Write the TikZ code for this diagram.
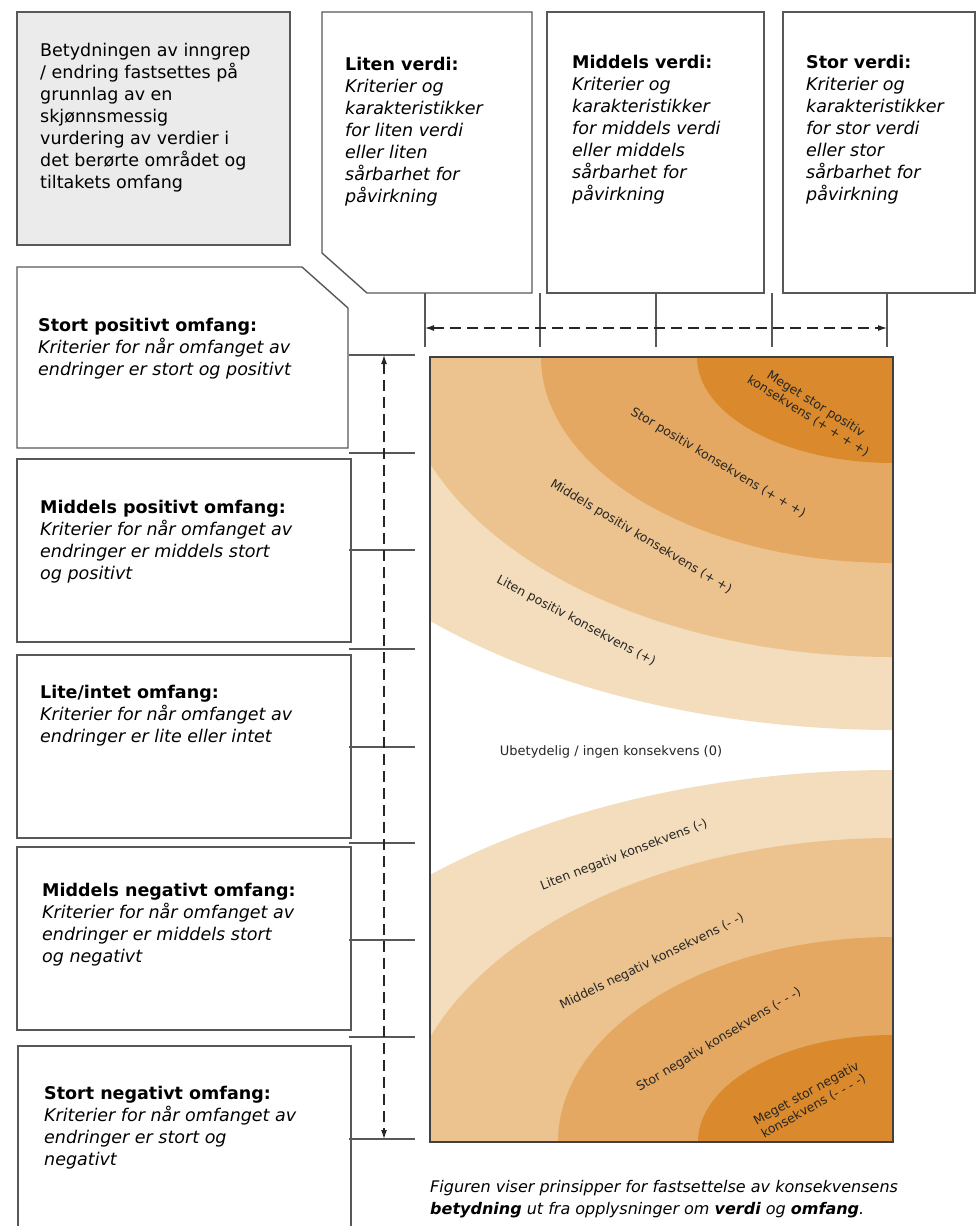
\documentclass[tikz,border=0pt]{standalone}
\usepackage{fontspec}
\setmainfont{DejaVu Sans}
\usetikzlibrary{arrows.meta}
\definecolor{boxgray}{HTML}{EBEBEB}
\definecolor{edge}{HTML}{585858}
\definecolor{cA}{HTML}{DA8A2C}
\definecolor{cB}{HTML}{E4A862}
\definecolor{cC}{HTML}{ECC38E}
\definecolor{cD}{HTML}{F4DDBC}
\tikzset{
  boxline/.style={draw=edge, line width=1.4pt, line join=miter},
  txt/.style={anchor=north west, inner sep=0pt, align=left, font=\fontsize{17.5}{22}\selectfont},
  captxt/.style={anchor=north west, inner sep=0pt, align=left, font=\itshape\fontsize{16}{22.5}\selectfont},
  tickline/.style={draw=edge, line width=1.2pt},
  dimarrow/.style={draw=black!85, line width=1.2pt, dash pattern=on 11pt off 6pt,
     {Latex[length=9pt,width=6pt]}-{Latex[length=9pt,width=6pt]}},
  lbl/.style={inner sep=0pt, align=center, text=black!85, font=\fontsize{12.5}{14.5}\selectfont},
}
\begin{document}
\begin{tikzpicture}[x=1pt,y=-1pt]
\useasboundingbox (0,0) rectangle (978,1226);
\fill[white] (0,0) rectangle (978,1226);

% ---------- matrix ----------
\begin{scope}
  \clip (430,357) rectangle (893,1142);
  \fill[white] (430,357) rectangle (893,1142);
  \fill[cD] (893,357) ellipse [x radius=655pt, y radius=373pt];
  \fill[cC] (893,357) ellipse [x radius=495pt, y radius=300pt];
  \fill[cB] (893,357) ellipse [x radius=352pt, y radius=206pt];
  \fill[cA] (893,357) ellipse [x radius=196pt, y radius=106pt];
  \fill[cD] (893,1142) ellipse [x radius=665pt, y radius=372pt];
  \fill[cC] (893,1142) ellipse [x radius=493pt, y radius=304pt];
  \fill[cB] (893,1142) ellipse [x radius=335pt, y radius=205pt];
  \fill[cA] (893,1142) ellipse [x radius=195pt, y radius=107pt];
\end{scope}
\draw[draw=black!75, line width=1.2pt] (430,357) rectangle (893,1142);

\node[lbl, rotate=-32] (p4) at (812,410) {Meget stor positiv\\konsekvens (+ + + +)};
\node[lbl, rotate=-31] (p3) at (718,463) {Stor positiv konsekvens (+ + +)};
\node[lbl, rotate=-31] (p2) at (641,537) {Middels positiv konsekvens (+ +)};
\node[lbl, rotate=-28] (p1) at (576,621) {Liten positiv konsekvens (+)};
\node[lbl, font=\fontsize{13}{15}\selectfont] (n0) at (611,752) {Ubetydelig / ingen konsekvens (0)};
\node[lbl, rotate=21] (n1) at (624,855) {Liten negativ konsekvens (-)};
\node[lbl, rotate=26] (n2) at (652,962) {Middels negativ konsekvens (- -)};
\node[lbl, rotate=31] (n3) at (719,1040) {Stor negativ konsekvens (- - -)};
\node[lbl, rotate=29] (n4) at (810,1100) {Meget stor negativ\\konsekvens (- - - -)};

% ---------- boxes ----------
\draw[boxline, fill=boxgray] (17,12) rectangle (290,245);
\draw[boxline] (322,12) -- (532,12) -- (532,293) -- (367,293) -- (322,253) -- cycle;
\draw[boxline] (547,12) rectangle (764,293);
\draw[boxline] (783,12) rectangle (975,293);
\draw[boxline] (17,267) -- (302,267) -- (348,308) -- (348,448) -- (17,448) -- cycle;
\draw[boxline] (17,459) rectangle (351,642);
\draw[boxline] (17,655) rectangle (351,838);
\draw[boxline] (17,847) rectangle (351,1030);
\draw[boxline] (18,1046) rectangle (351,1260);

% ---------- texts ----------
\node[txt] (intro) at (40,43) {Betydningen av inngrep\\/ endring fastsettes på\\grunnlag av en\\skjønnsmessig\\vurdering av verdier i\\det berørte området og\\tiltakets omfang};
\node[txt] (liten) at (345,57) {\textbf{Liten verdi:}\\\itshape Kriterier og\\\itshape karakteristikker\\\itshape for liten verdi\\\itshape eller liten\\\itshape sårbarhet for\\\itshape påvirkning};
\node[txt] (middels) at (572,55) {\textbf{Middels verdi:}\\\itshape Kriterier og\\\itshape karakteristikker\\\itshape for middels verdi\\\itshape eller middels\\\itshape sårbarhet for\\\itshape påvirkning};
\node[txt] (stor) at (806,55) {\textbf{Stor verdi:}\\\itshape Kriterier og\\\itshape karakteristikker\\\itshape for stor verdi\\\itshape eller stor\\\itshape sårbarhet for\\\itshape påvirkning};

\node[txt] (spos) at (38,318) {\textbf{Stort positivt omfang:}\\\itshape Kriterier for når omfanget av\\\itshape endringer er stort og positivt};
\node[txt] (mpos) at (40,500) {\textbf{Middels positivt omfang:}\\\itshape Kriterier for når omfanget av\\\itshape endringer er middels stort\\\itshape og positivt};
\node[txt] (lite) at (40,685) {\textbf{Lite/intet omfang:}\\\itshape Kriterier for når omfanget av\\\itshape endringer er lite eller intet};
\node[txt] (mneg) at (42,883) {\textbf{Middels negativt omfang:}\\\itshape Kriterier for når omfanget av\\\itshape endringer er middels stort\\\itshape og negativt};
\node[txt] (sneg) at (44,1086) {\textbf{Stort negativt omfang:}\\\itshape Kriterier for når omfanget av\\\itshape endringer er stort og\\\itshape negativt};

\node[captxt] (caption) at (430,1180) {Figuren viser prinsipper for fastsettelse av konsekvensens\\\textbf{betydning} ut fra opplysninger om \textbf{verdi} og \textbf{omfang}.};

% ---------- ticks and dimension arrows ----------
\foreach \i/\x in {1/425,2/540,3/656,4/772,5/887}{
  \coordinate (tt\i) at (\x,293);
  \coordinate (tb\i) at (\x,347);
  \draw[tickline] (tt\i) -- (tb\i);
}
\foreach \i/\y in {1/355,2/453,3/550,4/649,5/747,6/843,7/940,8/1037,9/1139}{
  \coordinate (ll\i) at (349,\y);
  \coordinate (lr\i) at (415,\y);
  \draw[tickline] (ll\i) -- (lr\i);
}
\coordinate (hA) at (425,328);
\coordinate (hB) at (887,328);
\draw[dimarrow] (hA) -- (hB);
\coordinate (vA) at (384,355);
\coordinate (vB) at (384,1139);
\draw[dimarrow] (vA) -- (vB);
\end{tikzpicture}
\end{document}
